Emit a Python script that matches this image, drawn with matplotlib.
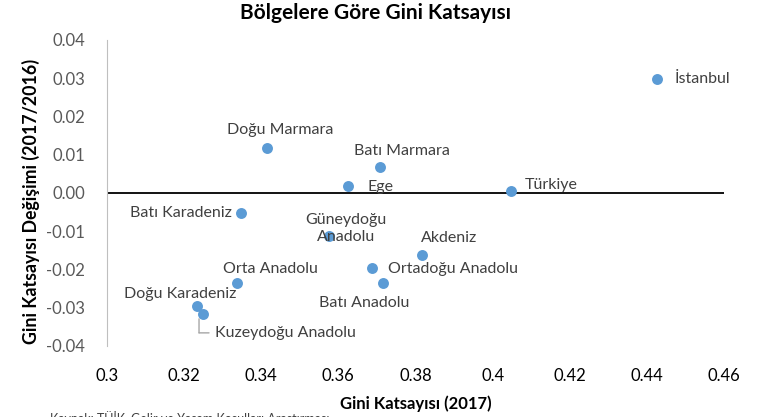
import matplotlib.pyplot as plt
from matplotlib.transforms import offset_copy

# data
regions = ["İstanbul", "Doğu Marmara", "Batı Marmara", "Ege", "Türkiye",
           "Batı Karadeniz", "Güneydoğu\nAnadolu", "Akdeniz", "Ortadoğu Anadolu",
           "Batı Anadolu", "Orta Anadolu", "Doğu Karadeniz", "Kuzeydoğu Anadolu"]
gini_2017 = [0.4426, 0.3415, 0.3708, 0.3625, 0.4048,
             0.3348, 0.3576, 0.3817, 0.3687,
             0.3716, 0.3337, 0.3233, 0.3249]
gini_change = [0.0298, 0.0118, 0.0068, 0.0018, 0.0005,
               -0.0052, -0.0112, -0.0162, -0.0196,
               -0.0235, -0.0235, -0.0295, -0.0316]
xticks = [0.3, 0.32, 0.34, 0.36, 0.38, 0.4, 0.42, 0.44, 0.46]
xticklabels = ["0.3", "0.32", "0.34", "0.36", "0.38", "0.4", "0.42", "0.44", "0.46"]
yticks = [-0.04, -0.03, -0.02, -0.01, 0.0, 0.01, 0.02, 0.03, 0.04]
yticklabels = ["-0.04", "-0.03", "-0.02", "-0.01", "0.00", "0.01", "0.02", "0.03", "0.04"]

# label offsets in pixels (dx, dy, ha)
label_pos = [(18, 0, "left"), (13, 18, "center"), (22, 16, "center"), (19, -1, "left"),
             (14, 6, "left"), (-9, 0, "right"), (17, 7, "center"), (27, 17, "center"),
             (16, -1, "left"), (-19, -20, "center"), (33, 14, "center"), (-17, 12, "center"),
             (12, -19, "left")]

plt.rcParams['font.family'] = ['Lato', 'DejaVu Sans']

fig = plt.figure(figsize=(7.66, 4.17), dpi=100)
ax = fig.add_axes([107 / 766, 1 - 346 / 417, 617 / 766, 306 / 417])

ax.scatter(gini_2017, gini_change, s=62, color="#5B9BD5", zorder=3, linewidths=0)
ax.axhline(0, color="black", lw=1.3, zorder=2)

for name, x, y, (dx, dy, ha) in zip(regions, gini_2017, gini_change, label_pos):
    ax.annotate(name, (x, y), xytext=(dx, dy), textcoords="offset pixels",
                ha=ha, va="center", fontsize=11.5, color="#404040", linespacing=1.25)

# leader line for Kuzeydoğu Anadolu (elbow, in pixel offsets from the point)
kx, ky = gini_2017[-1], gini_change[-1]
for (x0, y0), (x1, y1) in [((-4, -5), (-4, -19)), ((-4, -19), (6, -19))]:
    ax.annotate("", xy=(kx, ky),
                xycoords=offset_copy(ax.transData, fig=fig, x=x1, y=y1, units="dots"),
                xytext=(kx, ky),
                textcoords=offset_copy(ax.transData, fig=fig, x=x0, y=y0, units="dots"),
                arrowprops=dict(arrowstyle="-", color="#a6a6a6", lw=1, shrinkA=0, shrinkB=0))

ax.set_xlim(0.3, 0.46)
ax.set_ylim(-0.04, 0.04)
ax.set_xticks(xticks)
ax.set_xticklabels(xticklabels, fontsize=12, color="black")
ax.set_yticks(yticks)
ax.set_yticklabels(yticklabels, fontsize=12, color="#595959")
ax.tick_params(length=0, pad=16)

for s in ["top", "right", "bottom"]:
    ax.spines[s].set_visible(False)
ax.spines["left"].set_color("#bfbfbf")

ax.set_xlabel("Gini Katsayısı (2017)", fontsize=12, fontweight="bold", labelpad=8)
ax.set_ylabel("Gini Katsayısı Değişimi (2017/2016)", fontsize=12.8, fontweight="bold")
ax.yaxis.set_label_coords(-0.1086, 0.474)
fig.suptitle("Bölgelere Göre Gini Katsayısı", x=375 / 766, y=1 - 3 / 417, va="top",
             fontsize=15, fontweight="bold")

# source line, cut by the bottom edge as in the original
fig.text(50 / 766, 1 - 411 / 417, "Kaynak: TÜİK, Gelir ve Yaşam Koşulları Araştırması",
         fontsize=9, va="top", color="#404040")

fig.savefig("out.png", dpi=100)
